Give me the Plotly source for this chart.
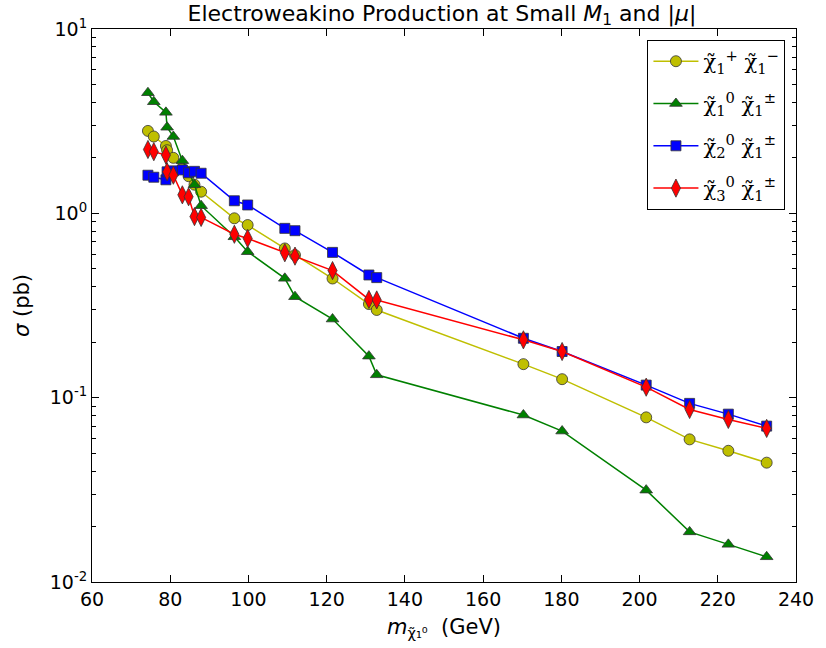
import plotly.graph_objects as go

# neutralino mass (GeV), shared by all channels
m_chi = [74.3, 75.8, 78.9, 79.2, 80.8, 83.1, 84.7, 86.2, 87.9, 96.4, 99.8,
         109.3, 111.9, 121.5, 130.8, 132.8, 170.3, 180.2, 201.7, 212.8, 222.7, 232.5]

# cross sections (pb)
sig_c1c1 = [2.80, 2.61, 2.32, 2.20, 2.00, 1.75, 1.59, 1.43, 1.31, 0.94, 0.864,
            0.645, 0.594, 0.443, 0.322, 0.299, 0.152, 0.126, 0.0782, 0.0594, 0.0515, 0.0444]
sig_n1c1 = [4.51, 4.03, 3.53, 2.93, 2.61, 1.93, 1.68, 1.43, 1.10, 0.746, 0.619,
            0.444, 0.353, 0.267, 0.168, 0.133, 0.0805, 0.0659, 0.0315, 0.0187, 0.0160, 0.0137]
sig_n2c1 = [1.61, 1.57, 1.52, 1.68, 1.70, 1.72, 1.66, 1.69, 1.65, 1.17, 1.11,
            0.829, 0.805, 0.614, 0.463, 0.448, 0.210, 0.178, 0.117, 0.0931, 0.0814, 0.0701]
sig_n3c1 = [2.22, 2.16, 2.07, 1.68, 1.61, 1.26, 1.23, 0.96, 0.95, 0.77, 0.731,
            0.611, 0.586, 0.489, 0.341, 0.339, 0.206, 0.178, 0.114, 0.0863, 0.0762, 0.0681]

labels = [
    "χ̃<sub>1</sub><sup>+</sup> χ̃<sub>1</sub><sup>−</sup>",
    "χ̃<sub>1</sub><sup>0</sup> χ̃<sub>1</sub><sup>±</sup>",
    "χ̃<sub>2</sub><sup>0</sup> χ̃<sub>1</sub><sup>±</sup>",
    "χ̃<sub>3</sub><sup>0</sup> χ̃<sub>1</sub><sup>±</sup>",
]

series = [
    (sig_c1c1, "#bfbf00", "circle", 11),
    (sig_n1c1, "#008000", "triangle-up", 11),
    (sig_n2c1, "#0000ff", "square", 10),
    (sig_n3c1, "#ff0000", "diamond-tall", 13),
]

fig = go.Figure()
for i, ((vals, col, sym, size), lab) in enumerate(zip(series, labels)):
    fig.add_trace(go.Scatter(
        x=m_chi, y=vals, mode="lines+markers", name=lab,
        legendgroup=f"g{i}",
        line=dict(color=col, width=1.5),
        marker=dict(symbol=sym, size=size, color=col,
                    line=dict(color="#333333", width=0.8)),
    ))

minor_vals = []
for dec in [0.01, 0.1, 1.0]:
    for k in range(2, 10):
        minor_vals.append(round(k * dec, 4))

fig.update_layout(
    width=826, height=648,
    margin=dict(l=92, r=20, t=29, b=66),
    paper_bgcolor="white", plot_bgcolor="white",
    font=dict(family="DejaVu Sans", size=19, color="black"),
    title=dict(text="Electroweakino Production at Small <i>M</i><sub>1</sub> and |<i>μ</i>|",
               x=0.535, xanchor="center", y=0.992, yanchor="top",
               font=dict(size=22)),
    xaxis=dict(range=[60, 240], tickvals=[60, 80, 100, 120, 140, 160, 180, 200, 220, 240],
               ticks="inside", ticklen=7, tickcolor="black", showline=True,
               linecolor="black", linewidth=1, mirror="ticks", showgrid=False,
               zeroline=False,
               title=dict(text="<i>m</i><sub>χ̃₁⁰</sub>  (GeV)", standoff=10,
                          font=dict(size=21))),
    yaxis=dict(type="log", range=[-2, 1], tickvals=[0.01, 0.1, 1, 10],
               ticktext=["10<sup>-2</sup>", "10<sup>-1</sup>", "10<sup>0</sup>", "10<sup>1</sup>"],
               ticks="inside", ticklen=7, tickcolor="black", showline=True,
               linecolor="black", linewidth=1, mirror="ticks", showgrid=False,
               zeroline=False,
               minor=dict(tickvals=minor_vals, ticks="inside", ticklen=4,
                          tickcolor="black", showgrid=False),
               title=dict(text="<i>σ</i> (pb)", standoff=14, font=dict(size=21))),
    legend=dict(x=0.985, xanchor="right", y=0.98, yanchor="top",
                bgcolor="white", bordercolor="black", borderwidth=1,
                font=dict(family="DejaVu Serif", size=21),
                itemwidth=45, tracegroupgap=12),
    showlegend=True,
)

fig.write_html("out.html")
